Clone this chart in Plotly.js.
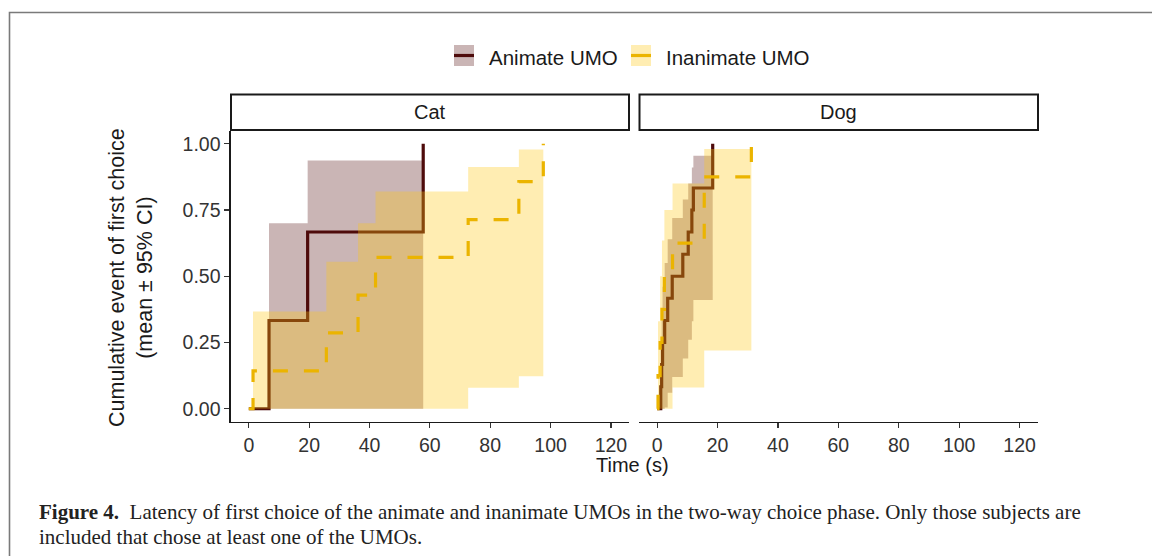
<!DOCTYPE html>
<html>
<head>
<meta charset="utf-8">
<script src="https://cdn.plot.ly/plotly-3.0.1.min.js"></script>
<style>html,body{margin:0;padding:0;background:#fff;}#chart{width:1152px;height:556px;}</style>
</head>
<body>
<div id="chart"></div>
<script>
// ---------------- data ----------------
const panels = ["Cat", "Dog"];
const seriesNames = ["Animate UMO", "Inanimate UMO"];
const xTicks = [0, 20, 40, 60, 80, 100, 120];
const yTicks = [0, 0.25, 0.5, 0.75, 1.0];
const yTickText = ["0.00", "0.25", "0.50", "0.75", "1.00"];

// Cat – animate
const catAnimT = [0, 6.7, 19.5, 57.8];
const catAnimV = [0, 0.333, 0.667, 1.0];
const catAnimCiT = [6.7, 19.5, 57.8];
const catAnimLo = [0, 0];
const catAnimHi = [0.70, 0.937];
// Cat – inanimate
const catInanT = [0, 1.4, 25.7, 36.2, 42.0, 72.7, 89.5, 97.6];
const catInanV = [0, 0.143, 0.286, 0.429, 0.571, 0.714, 0.857, 1.0];
const catInanCiT = [1.4, 25.7, 36.2, 42.0, 72.7, 89.5, 97.6];
const catInanLo = [0, 0, 0, 0, 0.079, 0.123];
const catInanHi = [0.367, 0.555, 0.70, 0.82, 0.912, 0.978];
// Dog – animate
const dogAnimT = [0, 1.2, 1.5, 1.8, 2.5, 3.5, 5.0, 8.5, 10.3, 11.5, 12.0, 18.4];
const dogAnimV = [0, 0.083, 0.167, 0.25, 0.333, 0.417, 0.5, 0.583, 0.667, 0.75, 0.833, 1.0];
const dogAnimCiT = [1.2, 1.5, 1.8, 2.5, 3.5, 5.0, 8.5, 10.3, 11.5, 12.0, 18.4];
const dogAnimLo = [0, 0, 0, 0.005, 0.06, 0.12, 0.19, 0.26, 0.33, 0.41];
const dogAnimHi = [0.23, 0.35, 0.46, 0.55, 0.64, 0.72, 0.79, 0.85, 0.91, 0.955];
// Dog – inanimate
const dogInanT = [0, 0.3, 1.0, 1.6, 2.4, 5.1, 15.6, 31.2];
const dogInanV = [0, 0.125, 0.25, 0.375, 0.5, 0.625, 0.875, 1.0];
const dogInanCiT = [0.3, 1.0, 1.6, 2.4, 5.1, 15.6, 31.2];
const dogInanLo = [0, 0, 0, 0, 0.08, 0.22];
const dogInanHi = [0.33, 0.50, 0.635, 0.75, 0.85, 0.98];

// ---------------- styles ----------------
const animCol = "#4E0B0B";
const animFill = "rgba(78,11,11,0.30)";
const inanCol = "#EBB400";
const inanFill = "rgba(255,198,16,0.32)";
const SANS = "Liberation Sans, Arial, sans-serif";
const SERIF = "Liberation Serif, Times New Roman, serif";

function ribbon(t, lo, hi, xa, ya, fill) {
  const xs = [], ys = [];
  for (let i = 0; i < hi.length; i++) { xs.push(t[i], t[i + 1]); ys.push(hi[i], hi[i]); }
  for (let i = lo.length - 1; i >= 0; i--) { xs.push(t[i + 1], t[i]); ys.push(lo[i], lo[i]); }
  return {x: xs, y: ys, xaxis: xa, yaxis: ya, type: "scatter", mode: "lines",
          fill: "toself", fillcolor: fill, line: {width: 0}, hoverinfo: "skip", showlegend: false};
}
function stepLine(t, v, xa, ya, col, dash) {
  return {x: t, y: v, xaxis: xa, yaxis: ya, type: "scatter", mode: "lines",
          line: {color: col, width: 3.2, shape: "hv", dash: dash}, showlegend: false};
}

const traces = [
  ribbon(catAnimCiT, catAnimLo, catAnimHi, "x", "y", animFill),
  stepLine(catAnimT, catAnimV, "x", "y", animCol, "solid"),
  ribbon(catInanCiT, catInanLo, catInanHi, "x", "y", inanFill),
  stepLine(catInanT, catInanV, "x", "y", inanCol, "15px,16px"),
  ribbon(dogAnimCiT, dogAnimLo, dogAnimHi, "x2", "y2", animFill),
  stepLine(dogAnimT, dogAnimV, "x2", "y2", animCol, "solid"),
  ribbon(dogInanCiT, dogInanLo, dogInanHi, "x2", "y2", inanFill),
  stepLine(dogInanT, dogInanV, "x2", "y2", inanCol, "15px,16px")
];

const W = 1152, H = 556;
const px = v => v / W, py = v => 1 - v / H;
const xDomCat = [px(230.7), px(629)], xDomDog = [px(639), px(1037.7)];
const yDom = [py(422), py(130.5)];

const xBase = {range: [-6, 126], tickvals: xTicks, showline: true, linecolor: "#1a1a1a", linewidth: 1.3,
  ticks: "outside", ticklen: 5, tickwidth: 1.2, tickcolor: "#333", showgrid: false, zeroline: false,
  tickfont: {family: SANS, size: 19.5, color: "#333"}, fixedrange: true};

const shapes = [
  // outer frame
  {type: "path", xref: "paper", yref: "paper", path: `M ${px(9.5)},0 L ${px(9.5)},${py(12.5)} L 1,${py(12.5)}`,
   line: {color: "#7a7a7a", width: 1.6}},
  // strips
  {type: "rect", xref: "paper", yref: "paper", x0: px(231), x1: px(629), y0: py(130), y1: py(94.5),
   line: {color: "#1a1a1a", width: 2}, fillcolor: "#fff"},
  {type: "rect", xref: "paper", yref: "paper", x0: px(639.5), x1: px(1038), y0: py(130), y1: py(94.5),
   line: {color: "#1a1a1a", width: 2}, fillcolor: "#fff"},
  // legend keys
  {type: "rect", xref: "paper", yref: "paper", x0: px(454), x1: px(474), y0: py(66), y1: py(45),
   line: {width: 0}, fillcolor: animFill},
  {type: "line", xref: "paper", yref: "paper", x0: px(454), x1: px(474), y0: py(55.5), y1: py(55.5),
   line: {color: animCol, width: 3.2}},
  {type: "rect", xref: "paper", yref: "paper", x0: px(631), x1: px(651), y0: py(66), y1: py(45),
   line: {width: 0}, fillcolor: inanFill},
  {type: "line", xref: "paper", yref: "paper", x0: px(631), x1: px(651), y0: py(55.5), y1: py(55.5),
   line: {color: inanCol, width: 3.2}}
];

const ann = (text, x, y, opts) => Object.assign({text: text, xref: "paper", yref: "paper", x: px(x), y: py(y),
  xanchor: "center", yanchor: "middle", showarrow: false,
  font: {family: SANS, size: 20, color: "#1a1a1a"}}, opts || {});

const annotations = [
  ann(panels[0], 430, 112),
  ann(panels[1], 838.5, 112),
  ann(seriesNames[0], 487, 57, {xanchor: "left", font: {family: SANS, size: 20.5, color: "#1a1a1a"}}),
  ann(seriesNames[1], 664, 57, {xanchor: "left", font: {family: SANS, size: 20.5, color: "#1a1a1a"}}),
  ann("Time (s)", 632, 465),
  ann("Cumulative event of first choice<br>(mean ± 95% CI)", 131, 278,
      {textangle: -90, font: {family: SANS, size: 21.5, color: "#1a1a1a"}}),
  ann("<b>Figure 4.</b>  Latency of first choice of the animate and inanimate UMOs in the two-way choice phase. Only those subjects are",
      37, 512, {xanchor: "left", font: {family: SERIF, size: 21, color: "#222"}}),
  ann("included that chose at least one of the UMOs.", 37, 537,
      {xanchor: "left", font: {family: SERIF, size: 21, color: "#222"}})
];

const layout = {
  width: W, height: H, margin: {l: 0, r: 0, t: 0, b: 0},
  paper_bgcolor: "#fff", plot_bgcolor: "rgba(0,0,0,0)", showlegend: false,
  xaxis: Object.assign({}, xBase, {domain: xDomCat, anchor: "y"}),
  xaxis2: Object.assign({}, xBase, {domain: xDomDog, anchor: "y2"}),
  yaxis: {domain: yDom, anchor: "x", range: [-0.05, 1.05], tickvals: yTicks, ticktext: yTickText,
    showline: true, linecolor: "#1a1a1a", linewidth: 1.3, ticks: "outside", ticklen: 5, tickwidth: 1.2,
    tickcolor: "#333", showgrid: false, zeroline: false, fixedrange: true,
    tickfont: {family: SANS, size: 19.5, color: "#333"}},
  yaxis2: {domain: yDom, anchor: "x2", range: [-0.05, 1.05], visible: false, showgrid: false, zeroline: false},
  shapes: shapes,
  annotations: annotations
};

Plotly.newPlot("chart", traces, layout, {staticPlot: true, displayModeBar: false});
</script>
</body>
</html>
